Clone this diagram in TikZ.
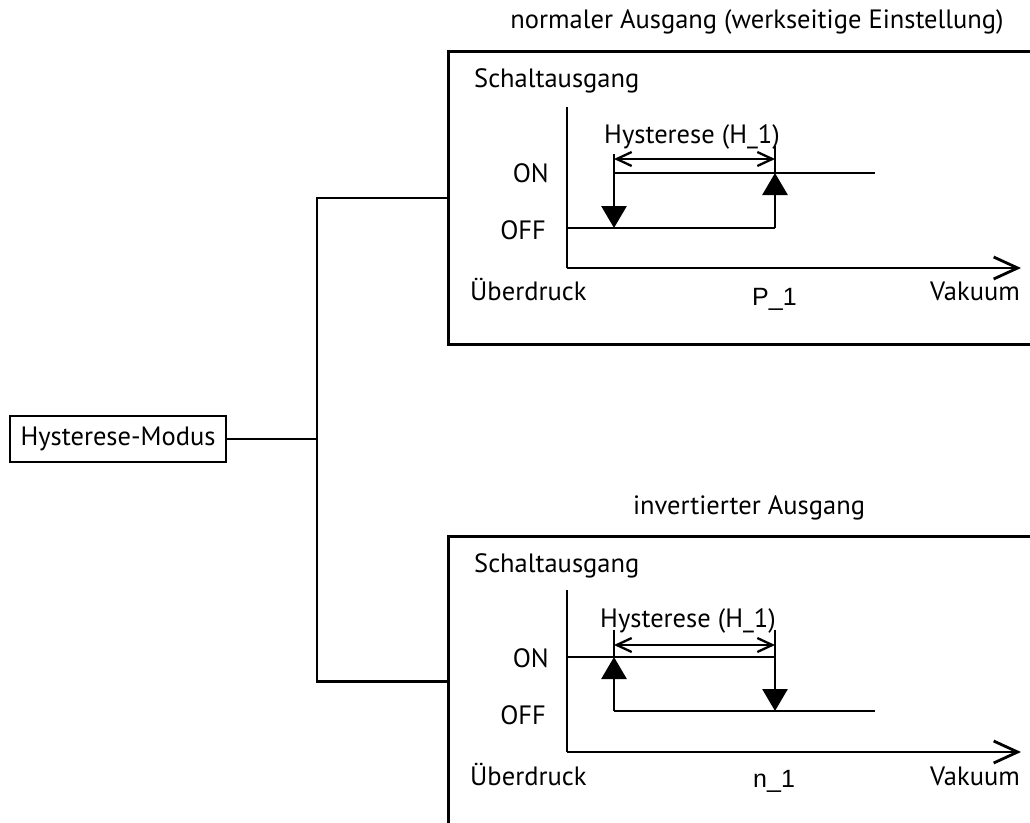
\documentclass[tikz,border=0pt]{standalone}
\usepackage{fontspec}
\setmainfont{PT Sans}
\newfontfamily\labelfont{Liberation Sans}
\usetikzlibrary{arrows.meta}

\begin{document}
\begin{tikzpicture}[x=1pt,y=-1pt,
  lw/.style={line width=2.8pt},
  txt/.style={font=\fontsize{26.5}{31}\selectfont, inner sep=0pt},
  ptxt/.style={font=\labelfont\fontsize{25}{30}\selectfont, inner sep=0pt},
  frame/.style={draw, lw, inner sep=0pt, anchor=north west},
  solid tip/.style={-{Triangle[length=22pt,width=25pt]}},
  span/.style={{Straight Barb[length=15pt,width=14pt]}-{Straight Barb[length=15pt,width=14pt]}, line width=2.3pt},
  axis/.style={-{Straight Barb[length=24pt,width=22pt]}, lw},
]
\useasboundingbox (0,0) rectangle (1030,822);
\clip (0,0) rectangle (1030,822);

% mode selector and the two output panels
\node[draw, lw, txt, minimum width=216pt, minimum height=46pt] (hm) at (118,439) {Hysterese-Modus};
\node[frame, minimum width=640pt, minimum height=293pt] (boxA) at (447,50) {};
\node[frame, minimum width=640pt, minimum height=290pt] (boxB) at (447,535) {};
\coordinate (fork) at (317,439);
\draw[lw] (hm.east) -- (fork);
\draw[lw] (boxA.west) -| (fork) |- (boxB.west);

% panel titles
\node[txt, anchor=base] (tA) at (757,28) {normaler Ausgang (werkseitige Einstellung)};
\node[txt, anchor=base] (tB) at (749,514) {invertierter Ausgang};

% ---------- normal output ----------
\node[txt, anchor=base west] (sA) at (474,87) {Schaltausgang};
\node[txt, anchor=base east] (onA) at (549,182) {ON};
\node[txt, anchor=base east] (offA) at (546,239) {OFF};
\node[txt, anchor=base] (hA) at (692,143) {Hysterese (H\_1)};
\node[txt, anchor=base west] (uA) at (470,300) {Überdruck};
\node[txt, anchor=base east] (vA) at (1020,300) {Vakuum};
\node[ptxt, anchor=base west] (pA) at (752,305) {P\_1};

\coordinate (oA) at (567,268);
\draw[lw] (567,107) -- (oA);
\draw[axis] (oA) -- (1021,268);
\draw[lw] (567,228) -- (775,228);
\draw[lw] (614,173) -- (875,173);
\draw[lw, solid tip] (614,154) -- (614,228);
\draw[lw] (775,146) -- (775,173);
\draw[lw, solid tip] (775,228) -- (775,173);
\draw[span] (614,159) -- (775,159);

% ---------- inverted output ----------
\node[txt, anchor=base west] (sB) at (474,572) {Schaltausgang};
\node[txt, anchor=base east] (onB) at (549,667) {ON};
\node[txt, anchor=base east] (offB) at (546,724) {OFF};
\node[txt, anchor=base] (hB) at (688,627) {Hysterese (H\_1)};
\node[txt, anchor=base west] (uB) at (470,785) {Überdruck};
\node[txt, anchor=base east] (vB) at (1020,785) {Vakuum};
\node[ptxt, anchor=base west] (nB) at (753,787) {n\_1};

\coordinate (oB) at (567,752);
\draw[lw] (567,590) -- (oB);
\draw[axis] (oB) -- (1021,752);
\draw[lw] (567,657) -- (775,657);
\draw[lw] (614,711) -- (875,711);
\draw[lw] (614,630) -- (614,657);
\draw[lw, solid tip] (614,711) -- (614,657);
\draw[lw, solid tip] (775,630) -- (775,711);
\draw[span] (614,645) -- (775,645);
\end{tikzpicture}
\end{document}
